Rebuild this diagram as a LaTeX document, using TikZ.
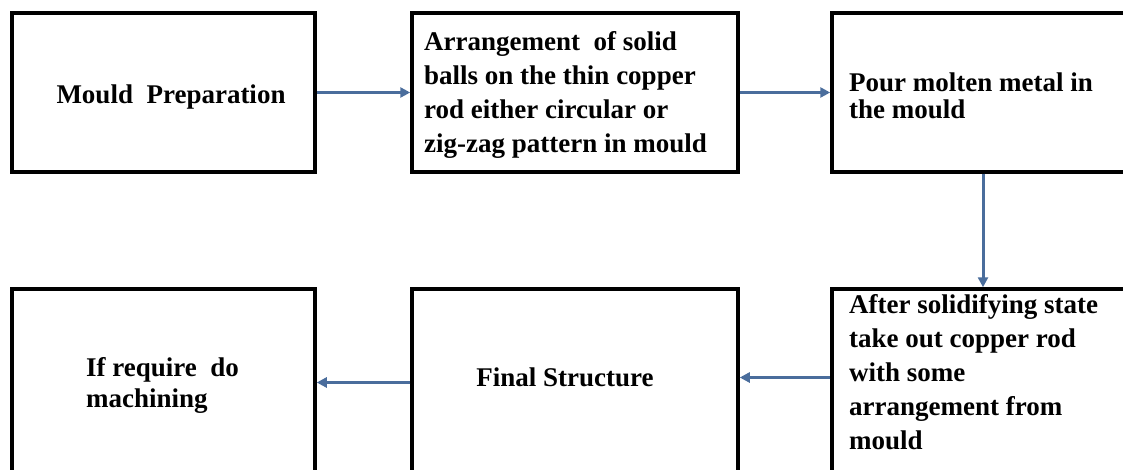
\documentclass[tikz,border=0pt]{standalone}
\usepackage{fontspec}
\setmainfont{Liberation Serif}
\usetikzlibrary{arrows.meta}
\definecolor{arrowblue}{HTML}{4A6D9C}
\begin{document}
\begin{tikzpicture}[x=1pt,y=-1pt,
  box/.style={draw=black,line width=3.5pt,rectangle,inner sep=0pt,minimum height=#1},
  box/.default=159pt,
  lbl/.style={font=\fontsize{27}{34}\selectfont\bfseries,align=left,inner sep=0pt},
  flow/.style={draw=arrowblue,line width=3pt,-{Triangle[length=10pt,width=10pt]}}]
\useasboundingbox (0,0) rectangle (1123,470);
\clip (0,0) rectangle (1123,470);
\fill[white] (0,0) rectangle (1123,470);
% top row
\node[box,minimum width=303pt] (b1) at (163.5,92.5) {};
\node[box,minimum width=326pt] (b2) at (575,92.5) {};
\node[box,minimum width=302pt] (b3) at (983,92.5) {};
% bottom row
\node[box=191pt,minimum width=302pt] (b4) at (983,384.5) {};
\node[box=191pt,minimum width=326pt] (b5) at (575,384.5) {};
\node[box=191pt,minimum width=303pt] (b6) at (163.5,384.5) {};
% texts
\node[lbl] (t1) at (171,97) {Mould\ \ Preparation};
\node[lbl,anchor=west] (t2) at (424,95) {Arrangement\ \ of solid\\balls\ on\ the thin\ copper\\rod\ either circular\ or\\zig-zag\ pattern\ in\ mould};
\node[lbl,anchor=west,font=\fontsize{27}{27}\selectfont\bfseries] (t3) at (849,96) {Pour molten metal in\\the mould};
\node[lbl,anchor=west] (t4) at (849,372) {After solidifying\ state\\take out copper rod\\with\ some\\arrangement\ from\\mould};
\node[lbl] (t5) at (565,377) {Final Structure};
\node[lbl,anchor=west,font=\fontsize{27}{31}\selectfont\bfseries] (t6) at (86,385) {If require\ \ do\\machining};
% connectors
\draw[flow] (b1.east) -- (b2.west);
\draw[flow] (b2.east) -- (b3.west);
\draw[flow] (b3.south) -- (b4.north);
\draw[flow] ([yshift=7pt]b4.west) -- ([yshift=7pt]b5.east);
\draw[flow] ([yshift=2pt]b5.west) -- ([yshift=2pt]b6.east);
\end{tikzpicture}
\end{document}
